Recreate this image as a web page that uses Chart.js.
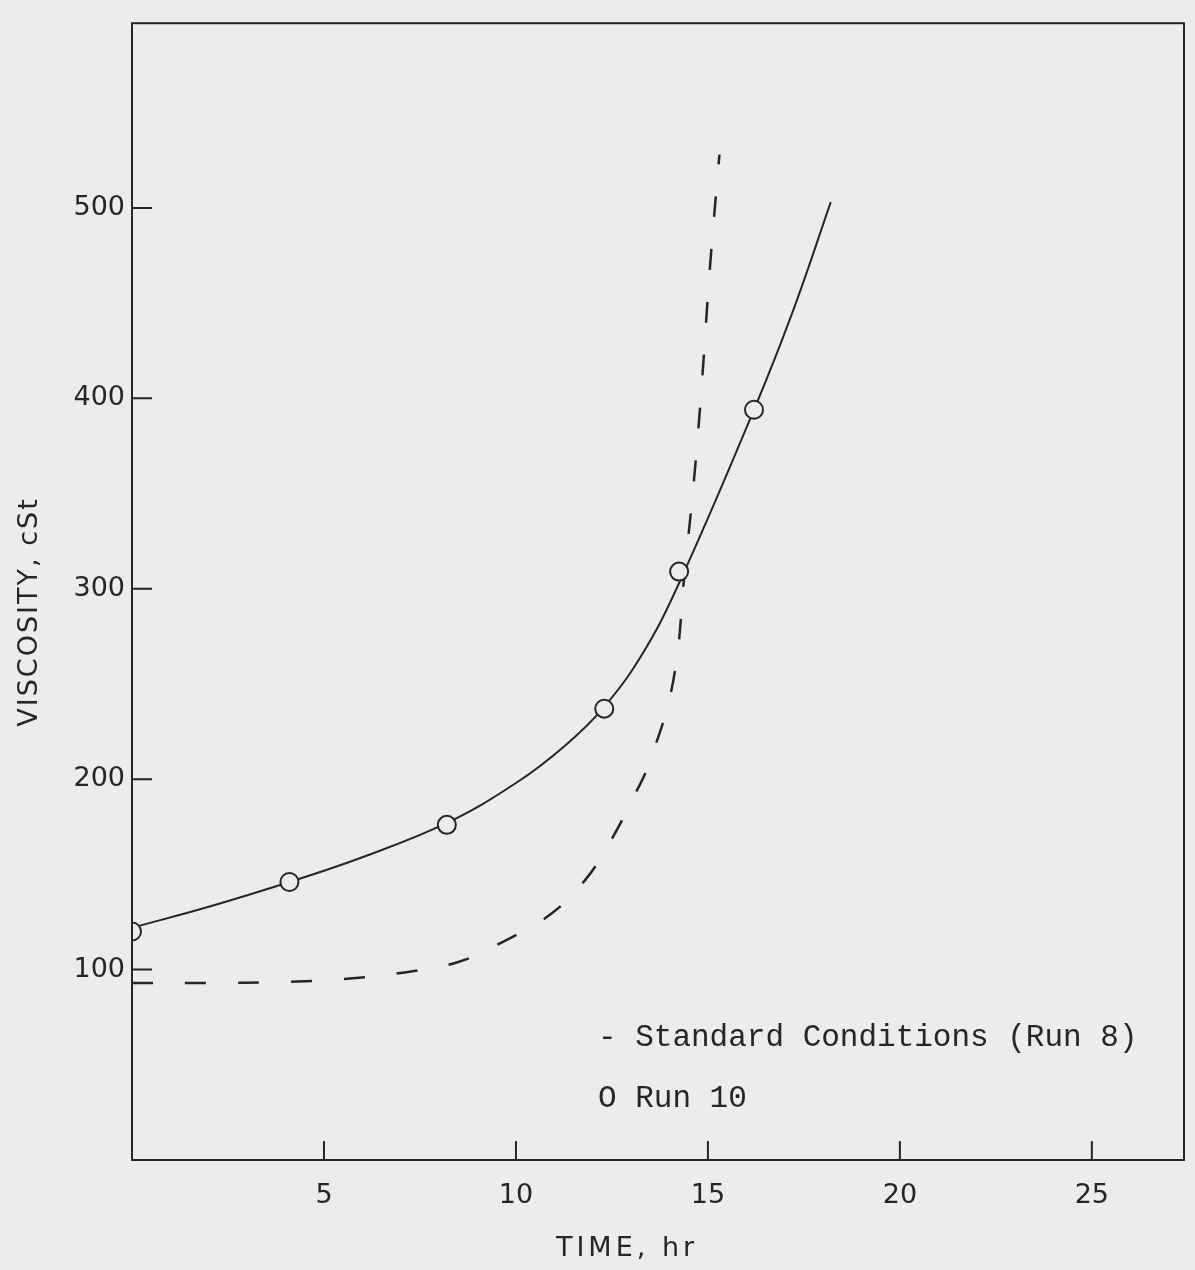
<!DOCTYPE html>
<html>
<head>
<meta charset="utf-8">
<title>Viscosity vs time</title>
<script src="https://cdn.jsdelivr.net/npm/chart.js@4.4.1/dist/chart.umd.min.js"></script>
<style>
  html, body { margin: 0; padding: 0; background: #ececec; }
  #wrap { width: 1195px; height: 1270px; }
</style>
</head>
<body>
<div id="wrap"><canvas id="viscosityChart" width="1195" height="1270"></canvas></div>
<script>
// Run 10 measured points (circles)
const run10Time = [0, 4.1, 8.2, 12.3, 14.25, 16.2];
const run10Visc = [120, 146, 176, 237, 309, 394];

// Run 10 fitted curve (solid line)
const run10CurveTime = [0, 2, 4.1, 6, 8.2, 10, 11.3, 12.3, 13.3, 14.25, 16.2, 17.2, 18.2];
const run10CurveVisc = [122, 133, 146, 159, 177, 198, 218, 238, 266, 303, 394, 445, 503];

// Standard conditions (Run 8), dashed curve
const run8Time = [0, 2, 4, 5.5, 7.1, 8.5, 9.7, 10.9, 11.8, 12.45, 13.05, 13.5, 14.1, 14.4, 14.65, 14.85, 15.05, 15.3];
const run8Visc = [93, 93, 93.5, 95, 98.5, 104, 115, 129, 147, 167, 190, 210, 252, 310, 360, 410, 468, 528];

// Axis ticks
const timeTicks = [5, 10, 15, 20, 25];
const viscTicks = [100, 200, 300, 400, 500];

const ink = '#262626';
const paper = '#ececec';
const axisFont = '"DejaVu Sans", sans-serif';

function toPoints(xs, ys) {
  return xs.map((x, i) => ({ x: x, y: ys[i] }));
}

// Frame, inward tick marks, axis titles and the in-plot legend
const paperPlot = {
  id: 'paperPlot',
  afterDraw(chart) {
    const ctx = chart.ctx;
    const area = chart.chartArea;
    const xs = chart.scales.x;
    const ys = chart.scales.y;
    ctx.save();
    ctx.strokeStyle = ink;
    ctx.lineWidth = 2;
    ctx.strokeRect(area.left, area.top, area.right - area.left, area.bottom - area.top);

    ctx.beginPath();
    timeTicks.forEach(t => {
      const px = xs.getPixelForValue(t);
      ctx.moveTo(px, area.bottom);
      ctx.lineTo(px, area.bottom - 19);
    });
    viscTicks.forEach(v => {
      const py = ys.getPixelForValue(v);
      ctx.moveTo(area.left, py);
      ctx.lineTo(area.left + 20, py);
    });
    ctx.stroke();

    // axis titles
    ctx.fillStyle = ink;
    ctx.font = '27px ' + axisFont;
    ctx.textAlign = 'center';
    ctx.textBaseline = 'middle';
    ctx.letterSpacing = '4px';
    ctx.fillText('TIME, hr', 627, 1249);
    ctx.save();
    ctx.translate(30, 612);
    ctx.rotate(-Math.PI / 2);
    ctx.letterSpacing = '2px';
    ctx.fillText('VISCOSITY, cSt', 0, 0);
    ctx.restore();

    // legend
    ctx.letterSpacing = '0px';
    ctx.textAlign = 'left';
    ctx.textBaseline = 'alphabetic';
    ctx.font = '31px "Liberation Mono", "DejaVu Sans Mono", monospace';
    ctx.fillText('- Standard Conditions (Run 8)', 598, 1046);
    ctx.fillText('O Run 10', 598, 1107);
    ctx.restore();
  }
};

const ctx = document.getElementById('viscosityChart').getContext('2d');
const viscosityChart = new Chart(ctx, {
  type: 'scatter',
  data: {
    datasets: [
      {
        label: 'Run 10',
        data: toPoints(run10Time, run10Visc),
        showLine: false,
        pointStyle: 'circle',
        pointRadius: 9,
        pointBorderWidth: 2,
        pointBorderColor: ink,
        pointBackgroundColor: paper
      },
      {
        label: 'Run 10 curve',
        data: toPoints(run10CurveTime, run10CurveVisc),
        showLine: true,
        pointRadius: 0,
        borderColor: ink,
        borderWidth: 2,
        tension: 0.4
      },
      {
        label: 'Standard Conditions (Run 8)',
        data: toPoints(run8Time, run8Visc),
        showLine: true,
        pointRadius: 0,
        borderColor: ink,
        borderWidth: 2.5,
        borderDash: [21, 32],
        tension: 0.4
      }
    ]
  },
  options: {
    responsive: false,
    animation: false,
    devicePixelRatio: 1,
    layout: { padding: { top: 15, right: 10, left: 0, bottom: 0 } },
    plugins: {
      legend: { display: false },
      tooltip: { enabled: false }
    },
    scales: {
      x: {
        type: 'linear',
        min: 0,
        max: 27.4,
        grid: { display: false, drawTicks: false },
        border: { display: false },
        afterFit: s => { s.height = 110; },
        afterBuildTicks: s => { s.ticks = timeTicks.map(v => ({ value: v })); },
        ticks: {
          padding: 20,
          color: ink,
          font: { family: axisFont, size: 27 },
          maxRotation: 0,
          autoSkip: false
        }
      },
      y: {
        type: 'linear',
        min: 0,
        max: 597,
        grid: { display: false, drawTicks: false },
        border: { display: false },
        afterFit: s => { s.width = 132; },
        afterBuildTicks: s => { s.ticks = viscTicks.map(v => ({ value: v })); },
        ticks: {
          padding: 7,
          color: ink,
          font: { family: axisFont, size: 27 },
          autoSkip: false
        }
      }
    }
  },
  plugins: [paperPlot]
});
</script>
</body>
</html>
